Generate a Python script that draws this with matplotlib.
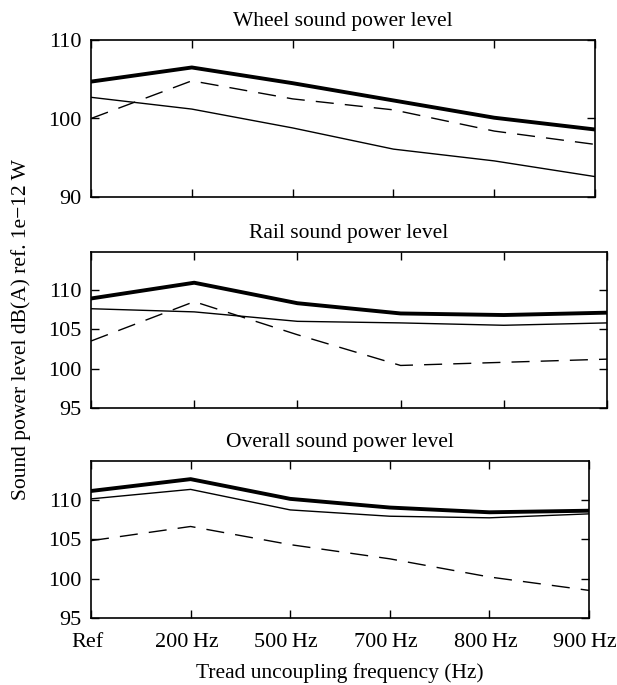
import matplotlib.pyplot as plt
from matplotlib.transforms import ScaledTranslation

plt.rcParams['font.family'] = ['Liberation Serif', 'DejaVu Serif']
plt.rcParams['font.size'] = 14

freqs = ["Ref", "200\u2009Hz", "500\u2009Hz", "700\u2009Hz", "800\u2009Hz", "900\u2009Hz"]

# wheel sound power level
wheel_thick = [104.7, 106.5, 104.5, 102.3, 100.1, 98.6]
wheel_thin = [102.7, 101.2, 98.8, 96.1, 94.6, 92.6]
wheel_dash = [100.0, 104.8, 102.5, 101.1, 98.4, 96.7]

# rail sound power level
rail_thick = [108.9, 110.9, 108.3, 107.0, 106.8, 107.1]
rail_thin = [107.6, 107.2, 106.0, 105.8, 105.5, 105.8]
rail_dash = [103.5, 108.5, 104.3, 100.4, 100.8, 101.2]

# overall sound power level
overall_thick = [111.1, 112.6, 110.1, 109.0, 108.4, 108.6]
overall_thin = [110.1, 111.3, 108.7, 107.9, 107.7, 108.2]
overall_dash = [104.8, 106.6, 104.3, 102.5, 100.2, 98.5]

titles = ["Wheel sound power level", "Rail sound power level", "Overall sound power level"]
ylims = [(90, 110), (95, 114.8), (95, 114.9)]
yticks = [[90, 100, 110], [95, 100, 105, 110], [95, 100, 105, 110]]

fig = plt.figure(figsize=(6.17, 6.85), dpi=100)
W, H = 617, 685
# pixel boxes (left, top, right, bottom) - the panels are not all the same width
boxes = [(91, 40, 595, 197), (91, 252, 607, 408), (91, 461, 589, 618)]

panels = [
    (wheel_thick, wheel_thin, wheel_dash),
    (rail_thick, rail_thin, rail_dash),
    (overall_thick, overall_thin, overall_dash),
]

x = list(range(len(freqs)))
for i, (l, t, r, b) in enumerate(boxes):
    ax = fig.add_axes([l / W, 1 - b / H, (r - l) / W, (b - t) / H])
    thick, thin, dash = panels[i]
    ax.plot(x, thick, color='black', lw=2.8, solid_joinstyle='round')
    ax.plot(x, thin, color='black', lw=1.0)
    ax.plot(x, dash, color='black', lw=1.0, ls=(0, (13, 8)))
    ax.set_xlim(0, 5)
    ax.set_ylim(*ylims[i])
    ax.set_yticks(yticks[i])
    ax.set_xticks(x)
    ax.tick_params(direction='in', top=True, right=True, length=6, width=1.0,
                   labelsize=16, pad=7)
    if i < 2:
        ax.set_xticklabels([])
    else:
        ax.set_xticklabels(freqs)
        ax.tick_params(axis='x', pad=11)
        shift = ScaledTranslation(-4 / 100, 0, fig.dpi_scale_trans)
        for lab in ax.get_xticklabels():
            lab.set_transform(lab.get_transform() + shift)
        ax.set_xlabel("Tread uncoupling frequency (Hz)", fontsize=15.5, labelpad=8)
    ax.set_title(titles[i], fontsize=15.5, pad=10)
    for s in ax.spines.values():
        s.set_linewidth(1.2)

fig.text(21 / W, 1 - 330 / H, "Sound power level dB(A) ref. 1e\u221212 W",
         rotation=90, ha='center', va='center', fontsize=15.5)

fig.savefig("out.png", dpi=100)
